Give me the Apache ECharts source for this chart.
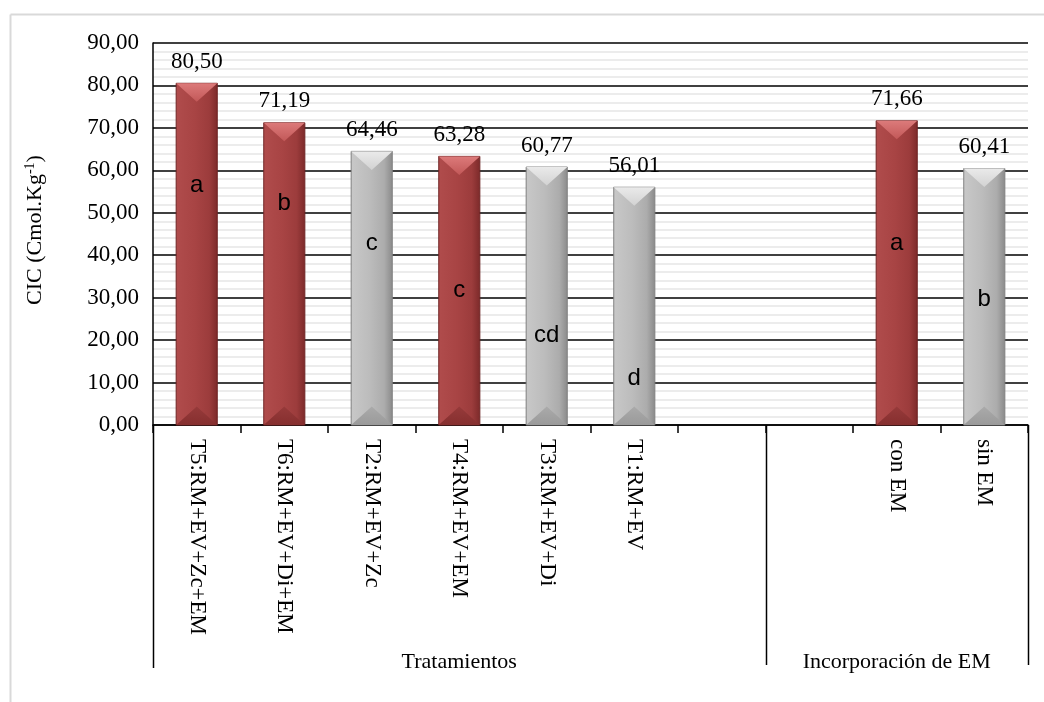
<!DOCTYPE html>
<html>
<head>
<meta charset="utf-8">
<script src="https://cdn.jsdelivr.net/npm/echarts@6/dist/echarts.min.js"></script>
<style>
  html, body { margin: 0; padding: 0; background: #ffffff; }
  #chart { width: 1044px; height: 702px; }
</style>
</head>
<body>
<div id="chart"></div>
<script>
// CIC by treatment and by EM incorporation
const categories = ['T5:RM+EV+Zc+EM', 'T6:RM+EV+Di+EM', 'T2:RM+EV+Zc', 'T4:RM+EV+EM',
                    'T3:RM+EV+Di', 'T1:RM+EV', '', '', 'con EM', 'sin EM'];
const cicValues = [80.50, 71.19, 64.46, 63.28, 60.77, 56.01, null, null, 71.66, 60.41];
const groupLetters = ['a', 'b', 'c', 'c', 'cd', 'd', '', '', 'a', 'b'];
const withEM = [true, true, false, true, false, false, false, false, true, false];
const yTicks = [0, 10, 20, 30, 40, 50, 60, 70, 80, 90];
const groups = [
  { name: 'Tratamientos', from: 0, to: 7 },
  { name: 'Incorporación de EM', from: 7, to: 10 }
];
// height (axis units) where each significance letter sits inside its bar
const letterLevel = [56.5, 52.3, 42.9, 31.8, 21.2, 11.1, null, null, 42.9, 29.5];

const SERIF = '"Liberation Serif", "Times New Roman", serif';
const SANS = '"Liberation Sans", Arial, sans-serif';

const palettes = {
  red: {
    body: ['#b04c4c', '#a84444', '#9c3c3c', '#7c2a2a'],
    top: ['#dc7a7a', '#c25858'],
    bottom: ['#963a3a', '#862f2f'],
    edge: '#6e2424'
  },
  gray: {
    body: ['#c8c8c8', '#bcbcbc', '#acacac', '#8a8a8a'],
    top: ['#eaeaea', '#d2d2d2'],
    bottom: ['#aaaaaa', '#9a9a9a'],
    edge: '#808080'
  }
};

function fmt(v) { return v.toFixed(2).replace('.', ','); }

function renderBar(params, api) {
  const idx = api.value(0);
  const v = api.value(1);
  const topPt = api.coord([idx, v]);
  const basePt = api.coord([idx, 0]);
  const band = api.size([1, 0])[0];
  const w = band * 0.47;
  const x0 = topPt[0] - w / 2;
  const y0 = topPt[1];
  const h = basePt[1] - topPt[1];
  const p = withEM[idx] ? palettes.red : palettes.gray;
  const d = Math.min(w * 0.45, h / 2);

  const children = [
    {
      type: 'rect',
      shape: { x: x0, y: y0, width: w, height: h },
      style: {
        fill: new echarts.graphic.LinearGradient(0, 0, 1, 0, [
          { offset: 0, color: p.body[0] },
          { offset: 0.45, color: p.body[1] },
          { offset: 0.8, color: p.body[2] },
          { offset: 1, color: p.body[3] }
        ]),
        stroke: p.edge, lineWidth: 0.6
      }
    },
    {
      type: 'polygon',
      shape: { points: [[x0, y0], [x0 + w, y0], [x0 + w / 2, y0 + d]] },
      style: {
        fill: new echarts.graphic.LinearGradient(0, 0, 0, 1, [
          { offset: 0, color: p.top[0] },
          { offset: 1, color: p.top[1] }
        ])
      }
    },
    {
      type: 'polygon',
      shape: { points: [[x0, y0 + h], [x0 + w, y0 + h], [x0 + w / 2, y0 + h - d]] },
      style: {
        fill: new echarts.graphic.LinearGradient(0, 0, 0, 1, [
          { offset: 0, color: p.bottom[0] },
          { offset: 1, color: p.bottom[1] }
        ])
      }
    },
    {
      type: 'text',
      style: {
        x: topPt[0], y: y0 - 10, text: fmt(v),
        align: 'center', verticalAlign: 'bottom',
        font: '23px ' + SERIF, fill: '#000000'
      }
    }
  ];
  const lv = letterLevel[idx];
  if (lv != null && groupLetters[idx]) {
    const ly = api.coord([idx, lv])[1];
    children.push({
      type: 'text',
      style: {
        x: topPt[0], y: ly, text: groupLetters[idx],
        align: 'center', verticalAlign: 'middle',
        font: '24px ' + SANS, fill: '#000000'
      }
    });
  }
  return { type: 'group', children: children };
}

const chart = echarts.init(document.getElementById('chart'), null, { renderer: 'canvas' });

const option = {
  animation: false,
  backgroundColor: '#ffffff',
  grid: { left: 153, right: 16, top: 43, bottom: 277, containLabel: false },
  xAxis: {
    type: 'category',
    data: categories,
    boundaryGap: true,
    axisLine: { lineStyle: { color: '#000000', width: 1.5 } },
    axisTick: { show: true, interval: 0, length: 8, lineStyle: { color: '#000000', width: 1.5 } },
    axisLabel: {
      interval: 0, rotate: -90, margin: 14,
      fontFamily: SERIF, fontSize: 23, color: '#000000'
    },
    splitLine: { show: false }
  },
  yAxis: {
    type: 'value',
    min: yTicks[0],
    max: yTicks[yTicks.length - 1],
    interval: yTicks[1] - yTicks[0],
    axisLine: { show: true, lineStyle: { color: '#000000', width: 1.5 } },
    axisTick: { show: false },
    axisLabel: {
      margin: 14, fontFamily: SERIF, fontSize: 23, color: '#000000',
      formatter: (v) => fmt(v)
    },
    splitLine: { show: true, lineStyle: { color: '#000000', width: 1.5 } },
    minorTick: { show: false, splitNumber: 5 },
    minorSplitLine: { show: true, lineStyle: { color: '#e6e6e6', width: 1.5 } }
  },
  series: [{
    type: 'custom',
    renderItem: renderBar,
    encode: { x: 0, y: 1 },
    data: cicValues.map((v, i) => [i, v]).filter(d => d[1] != null),
    z: 5
  }]
};

chart.setOption(option);

// Group brackets under the category axis, the outer frame and the y-axis title
function addDecorations() {
  const c0 = chart.convertToPixel({ xAxisIndex: 0 }, 0);
  const c1 = chart.convertToPixel({ xAxisIndex: 0 }, 1);
  const band = c1 - c0;
  const edge = (k) => c0 - band / 2 + k * band;
  const yBase = chart.convertToPixel({ yAxisIndex: 0 }, 0);
  const yTop = chart.convertToPixel({ yAxisIndex: 0 }, 90);
  const graphics = [
    { type: 'line', shape: { x1: 10.5, y1: 14.5, x2: 1044, y2: 14.5 }, style: { stroke: '#d9d9d9', lineWidth: 2 } },
    { type: 'line', shape: { x1: 10.5, y1: 14.5, x2: 10.5, y2: 702 }, style: { stroke: '#d9d9d9', lineWidth: 2 } },
    {
      type: 'text', x: 35, y: (yTop + yBase) / 2 - 4, rotation: Math.PI / 2,
      style: {
        text: 'CIC (Cmol.Kg{sup|-1})',
        align: 'center', verticalAlign: 'middle',
        font: '22px ' + SERIF, fill: '#000000',
        rich: { sup: { fontSize: 14, fontFamily: SERIF, verticalAlign: 'top', padding: [0, 0, 10, 0] } }
      }
    }
  ];
  const bounds = new Set();
  groups.forEach(g => { bounds.add(g.from); bounds.add(g.to); });
  bounds.forEach(k => {
    const x = Math.round(edge(k)) + 0.5;
    graphics.push({
      type: 'line',
      shape: { x1: x, y1: yBase, x2: x, y2: k === 0 ? 668 : 665 },
      style: { stroke: '#000000', lineWidth: 1.5 }
    });
  });
  groups.forEach(g => {
    graphics.push({
      type: 'text', x: (edge(g.from) + edge(g.to)) / 2, y: 662,
      style: {
        text: g.name, align: 'center', verticalAlign: 'middle',
        font: '22px ' + SERIF, fill: '#000000'
      }
    });
  });
  chart.setOption({ graphic: graphics });
}
addDecorations();
</script>
</body>
</html>
